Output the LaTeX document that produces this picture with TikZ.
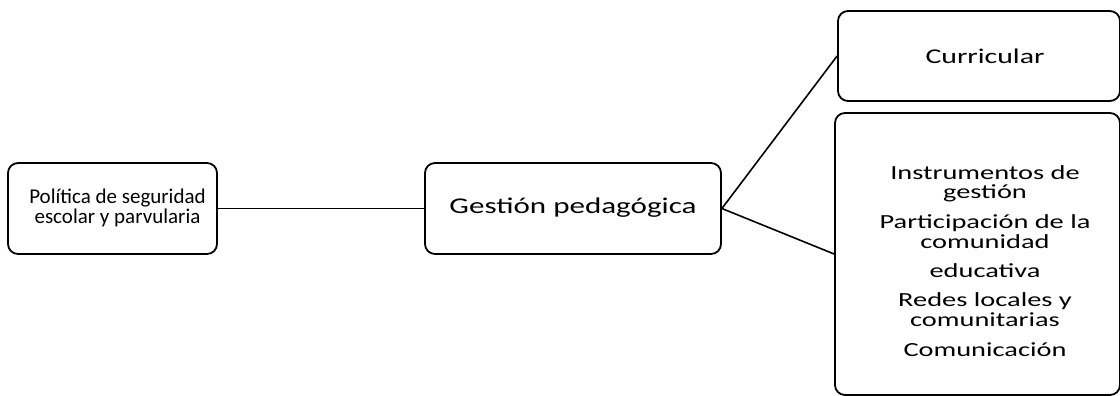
\documentclass[tikz,border=0pt]{standalone}
\usepackage{fontspec}
\setmainfont{Carlito}
\newfontfamily\widefont[FakeStretch=1.42]{Carlito}
\newfontfamily\gestfont[FakeStretch=1.38]{Carlito}
\begin{document}
\begin{tikzpicture}[x=1pt,y=-1pt,
  box/.style={draw, line width=1.8pt, rounded corners=10pt, inner sep=0pt},
  lbl/.style={align=center, inner sep=0pt},
  conn/.style={line width=1.6pt}]
\useasboundingbox (0,0) rectangle (1120,396);
% boxes
\node[box, minimum width=209pt, minimum height=91pt] (pol) at (112.5,208.5) {};
\node[box, minimum width=296pt, minimum height=91pt] (ges) at (573,208.5) {};
\node[box, minimum width=282pt, minimum height=90pt] (cur) at (979,56) {};
\node[box, minimum width=285pt, minimum height=282pt] (oth) at (977.5,254) {};
% texts
\node[lbl, font=\fontsize{21}{20}\selectfont] (polt) at (117.5,208) {Política de seguridad\\escolar y parvularia};
\node[lbl, font=\gestfont\fontsize{22.5}{22}\selectfont] (gest) at (573,208) {Gestión pedagógica};
\node[lbl, font=\widefont\fontsize{21}{20}\selectfont] (curt) at (985,56) {Curricular};
\node[lbl, font=\widefont\fontsize{20}{19.5}\selectfont] (otht) at (985,261) {Instrumentos de\\gestión\\[10.5pt]Participación de la\\comunidad\\[9.5pt]educativa\\[10pt]Redes locales y\\comunitarias\\[11pt]Comunicación};
% connectors
\draw[conn] (pol.east) -- (ges.west);
\draw[conn] (ges.east) -- (cur.west);
\draw[conn] (ges.east) -- (oth.west);
\end{tikzpicture}
\end{document}
